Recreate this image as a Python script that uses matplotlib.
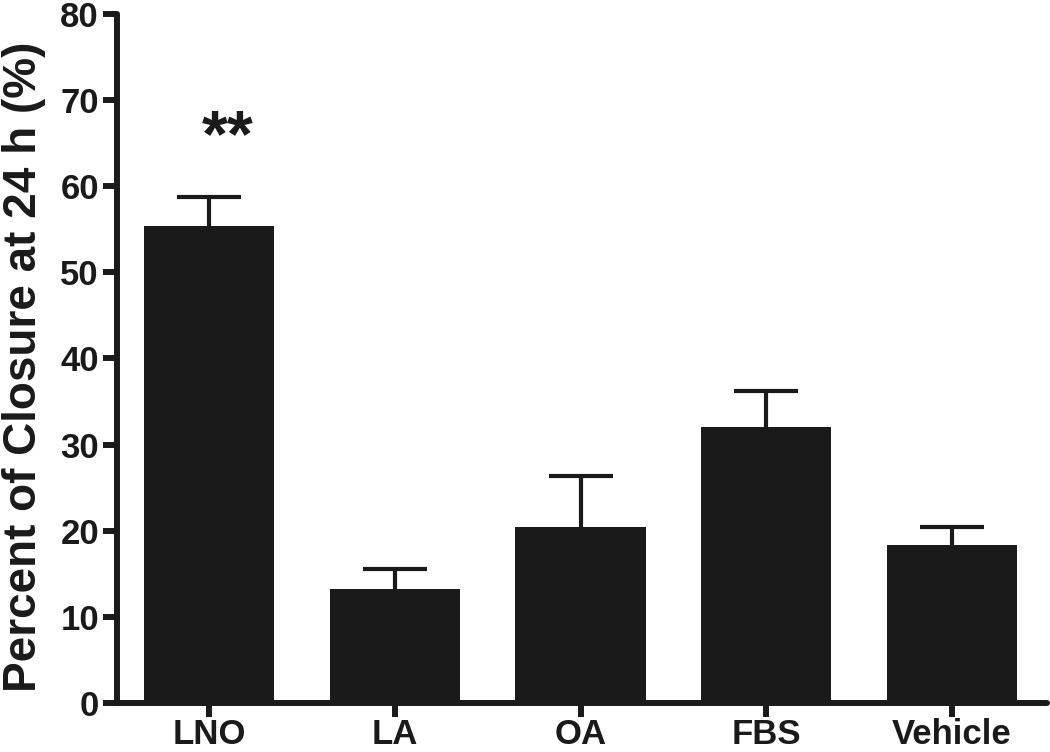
import matplotlib.pyplot as plt
import numpy as np

plt.rcParams['font.family'] = ['Liberation Sans', 'DejaVu Sans']
plt.rcParams['font.weight'] = 'bold'

# Daten
groups = ['LNO', 'LA', 'OA', 'FBS', 'Vehicle']
closure = [55.4, 13.2, 20.4, 32.1, 18.3]
sem = [3.4, 2.3, 5.9, 4.1, 2.1]
y_ticks = [0, 10, 20, 30, 40, 50, 60, 70, 80]

bar_color = '#1a1a1a'

fig = plt.figure(figsize=(10.5, 7.52), dpi=100)
ax = fig.add_axes([0.1114, 0.0652, 0.8856, 0.9162])

x = np.arange(len(groups))
ax.bar(x, closure, width=0.70, color=bar_color, zorder=2)
eb = ax.errorbar(x, closure, yerr=[np.zeros(len(sem)), sem], fmt='none',
                 ecolor=bar_color, elinewidth=3, capsize=23, capthick=3, zorder=1)
# untere Kappen ausblenden (nur obere Fehlerbalken)
eb[1][0].set_visible(False)

# Signifikanz
ax.text(x[0] + 0.1, 65.5, '**', ha='center', va='center',
        fontsize=48, fontweight='bold', color=bar_color)

ax.set_xlim(-0.495, 4.51)
ax.set_ylim(0, 80)
ax.set_xticks(x)
ax.set_xticklabels(groups, fontsize=25)
ax.set_yticks(y_ticks)
ax.set_yticklabels([str(t) for t in y_ticks], fontsize=25)

fig.text(0.002, 0.512, 'Percent of Closure at 24 h (%)', rotation=90,
         ha='left', va='center', fontsize=33, fontweight='bold', color=bar_color)

for side in ['top', 'right']:
    ax.spines[side].set_visible(False)
for side in ['left', 'bottom']:
    ax.spines[side].set_linewidth(4.3)
    ax.spines[side].set_color(bar_color)
    ax.spines[side].set_capstyle('round')

ax.tick_params(axis='both', direction='out', length=10, width=4.3, color=bar_color,
               pad=3, labelcolor=bar_color)
ax.tick_params(axis='x', pad=1)

plt.savefig('out.png', dpi=100)
